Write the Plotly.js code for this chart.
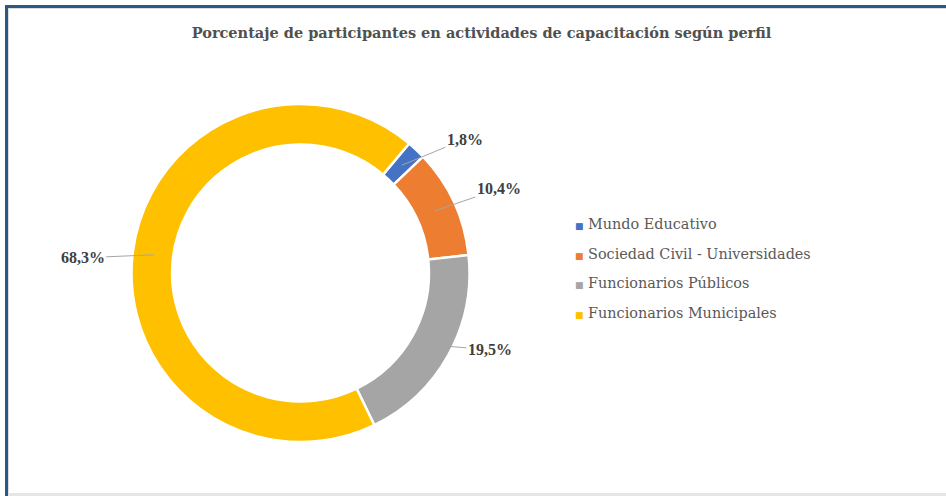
<!DOCTYPE html>
<html>
<head>
<meta charset="utf-8">
<script src="https://cdn.plot.ly/plotly-3.0.1.min.js"></script>
<style>
    body { margin: 0; background: #fff; }
    #wrap { position: relative; width: 946px; height: 496px; overflow: hidden; }
    #chart { width: 946px; height: 496px; }
    #frame { position: absolute; left: 5px; top: 5px; width: 960px; height: 488px;
             border-left: 3px solid #2A5784; border-top: 3px solid #2A5784; pointer-events: none; }
    #frame-inner { position: absolute; left: 8px; top: 8px; width: 960px; height: 485px;
             border-left: 1px solid #dcdcdc; border-top: 1px solid #dcdcdc; pointer-events: none; }
    #frame-bottom { position: absolute; left: 8px; top: 493px; width: 960px; height: 3px;
             background: #e6e6e6; pointer-events: none; }
</style>
</head>
<body>
<div id="wrap">
    <div id="chart"></div>
    <div id="frame"></div>
    <div id="frame-inner"></div>
    <div id="frame-bottom"></div>
</div>
<script>
const categories = ['Mundo Educativo', 'Sociedad Civil - Universidades', 'Funcionarios Públicos', 'Funcionarios Municipales'];
const percents = [1.8, 10.4, 19.5, 68.3];
const colors = ['#4472C4', '#ED7D31', '#A5A5A5', '#FFC000'];

// pie geometry (pixels)
const W = 946, H = 496;
const cx = 300.5, cy = 273, R = 169;
const rotation = 40;
const leaderR = 148;
// label offsets from the leader start, in pixels
const labelShift = [[63, -26], [64, -22], [60, 5], [-71, 3]];

const textColor = '#404040';
const serif = 'Liberation Serif, Times New Roman, serif';
const wideSerif = 'DejaVu Serif, serif';

function fmt(v) {
    return v.toFixed(1).replace('.', ',') + '%';
}

const total = percents.reduce((a, b) => a + b, 0);
let cum = 0;
const annotations = [];
percents.forEach((v, i) => {
    const mid = rotation + (cum + v / 2) / total * 360;
    cum += v;
    const a = mid * Math.PI / 180;
    annotations.push({
        xref: 'paper', yref: 'paper',
        x: (cx + leaderR * Math.sin(a)) / W,
        y: 1 - (cy - leaderR * Math.cos(a)) / H,
        ax: labelShift[i][0], ay: labelShift[i][1],
        text: '<b>' + fmt(v) + '</b>',
        showarrow: true, arrowhead: 0, arrowwidth: 1, arrowcolor: '#A6A6A6',
        standoff: 0, borderpad: 1,
        font: {family: serif, size: 16, color: textColor}
    });
});

// legend
categories.forEach((name, i) => {
    annotations.push({
        xref: 'paper', yref: 'paper',
        x: 573 / W, y: 1 - (224 + i * 29.7) / H,
        xanchor: 'left', yanchor: 'middle',
        showarrow: false,
        text: '<span style="color:' + colors[i] + ';font-size:9px">■</span> ' + name,
        font: {family: wideSerif, size: 14.4, color: '#595959'}
    });
});

const data = [{
    type: 'pie',
    labels: categories,
    values: percents,
    hole: 0.76,
    sort: false,
    direction: 'clockwise',
    rotation: rotation,
    textinfo: 'none',
    hoverinfo: 'label+percent',
    marker: {colors: colors, line: {color: '#ffffff', width: 2.5}},
    domain: {x: [(cx - R) / W, (cx + R) / W], y: [1 - (cy + R) / H, 1 - (cy - R) / H]},
    showlegend: false
}];

const layout = {
    width: W, height: H,
    margin: {l: 0, r: 0, t: 0, b: 0},
    paper_bgcolor: '#ffffff',
    title: {
        text: '<b>Porcentaje de participantes en actividades de capacitación según perfil</b>',
        x: 0.509, xanchor: 'center', y: 1 - 33 / H, yanchor: 'middle', yref: 'container',
        font: {family: wideSerif, size: 14.5, color: '#505050'}
    },
    annotations: annotations,
    showlegend: false
};

Plotly.newPlot('chart', data, layout, {displayModeBar: false, staticPlot: true});
</script>
</body>
</html>
